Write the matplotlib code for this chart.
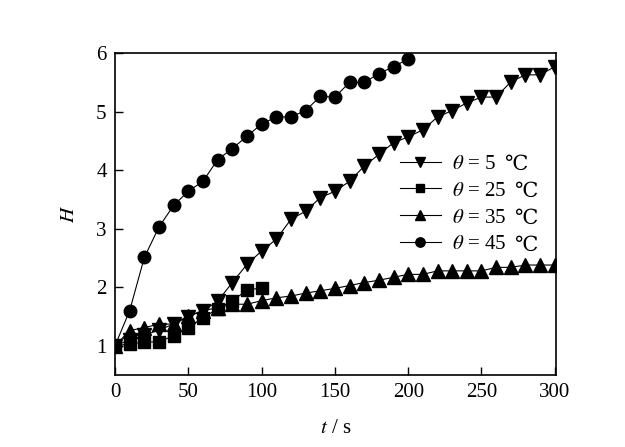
import numpy as np
import matplotlib.pyplot as plt

plt.rcParams["font.family"] = ["Liberation Serif", "DejaVu Serif"]
plt.rcParams["mathtext.fontset"] = "stix"

# Time points (s)
t_5 = np.arange(0, 301, 10)
t_25 = np.arange(0, 101, 10)
t_35 = np.arange(0, 301, 10)
t_45 = np.arange(0, 201, 10)

# H values
h_5 = [1.00, 1.10, 1.18, 1.27, 1.37, 1.50, 1.60, 1.76, 2.08, 2.39, 2.62,
       2.82, 3.16, 3.30, 3.53, 3.64, 3.81, 4.07, 4.27, 4.47, 4.57,
       4.69, 4.91, 5.02, 5.15, 5.25, 5.25, 5.51, 5.63, 5.63, 5.77]
h_25 = [1.00, 1.03, 1.06, 1.07, 1.17, 1.31, 1.48, 1.63, 1.77, 1.95, 1.99]
h_35 = [1.00, 1.26, 1.31, 1.37, 1.37, 1.51, 1.60, 1.65, 1.71, 1.71, 1.77,
        1.82, 1.85, 1.90, 1.94, 1.98, 2.03, 2.08, 2.12, 2.17, 2.22,
        2.22, 2.28, 2.28, 2.28, 2.28, 2.34, 2.34, 2.38, 2.38, 2.38]
h_45 = [1.00, 1.60, 2.51, 3.03, 3.40, 3.64, 3.81, 4.18, 4.37, 4.58, 4.79,
        4.91, 4.91, 5.02, 5.26, 5.25, 5.50, 5.50, 5.65, 5.77, 5.90]

temps = ["5", "25", "35", "45"]

fig = plt.figure(figsize=(6.25, 4.47), dpi=100)
ax = fig.add_axes([0.184, 0.161, 0.706, 0.720])

line_kw = dict(color="black", linewidth=0.8)
ax.plot(t_5, h_5, marker="v", markersize=10, **line_kw)
ax.plot(t_25, h_25, marker="s", markersize=8, **line_kw)
ax.plot(t_35, h_35, marker="^", markersize=10, **line_kw)
ax.plot(t_45, h_45, marker="o", markersize=9, **line_kw)

ax.set_xlim(0, 301)
ax.set_ylim(0.5, 6)
ax.set_xticks([0, 50, 100, 150, 200, 250, 300])
ax.set_yticks([1, 2, 3, 4, 5, 6])
ax.tick_params(direction="in", length=6, width=1, labelsize=15,
               top=False, right=False, pad=6)
for sp in ax.spines.values():
    sp.set_linewidth(1.2)

ax.set_xlabel(r"$t$ / s", fontsize=15, labelpad=12)
ax.set_ylabel(r"$H$", fontsize=15, labelpad=12)

# legend text: italic theta via mathtext, degree sign added separately
labels = [r"$\theta$ = " + t for t in temps]
leg = ax.legend(ax.get_lines(), labels, loc="upper left",
                bbox_to_anchor=(0.645, 0.686), frameon=False,
                borderaxespad=0, borderpad=0,
                fontsize=15, handlelength=2.0, handletextpad=0.5,
                labelspacing=0.35, markerscale=0.75)
fig.canvas.draw()
for txt in leg.get_texts():
    ax.annotate("℃", xy=(1, 0), xycoords=txt, xytext=(6, 0),
                textcoords="offset points", ha="left", va="bottom",
                fontsize=15, family=["DejaVu Serif", "Noto Sans CJK SC"],
                zorder=10)

fig.savefig("out.png", dpi=100)
